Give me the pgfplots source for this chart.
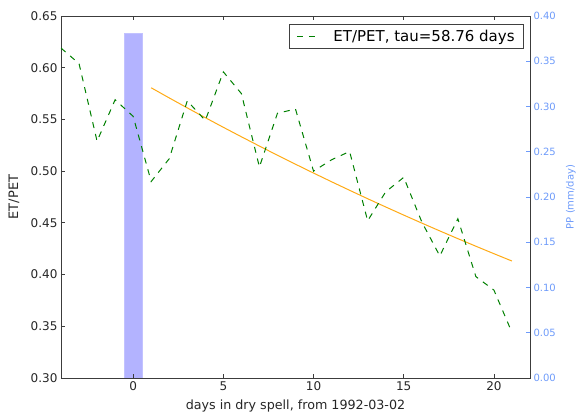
\documentclass[border=0pt]{standalone}
\usepackage{fontspec}
\setmainfont{DejaVu Sans}
\usepackage{pgfplots}
\pgfplotsset{compat=1.18}
\definecolor{ppblue}{RGB}{110,155,250}
\definecolor{barblue}{RGB}{179,179,255}
\definecolor{etgreen}{RGB}{0,128,0}
\definecolor{fitorange}{RGB}{255,170,20}
\definecolor{spine}{RGB}{60,60,60}
\begin{document}
\begin{tikzpicture}
% right axis: precipitation bar
\begin{axis}[
  at={(0pt,0pt)}, anchor=south west,
  scale only axis, width=469pt, height=362pt,
  xmin=-4, xmax=22, ymin=0, ymax=0.40,
  axis x line=none,
  axis y line*=right,
  y axis line style={draw=spine, line width=0.9pt},
  ytick={0,0.05,...,0.40},
  tick align=inside,
  major tick length=4pt,
  ytick style={color=ppblue, line width=0.8pt},
  yticklabel style={color=ppblue, font=\fontsize{10}{12}\selectfont},
  /pgf/number format/assume math mode=true,
  /pgf/number format/fixed, /pgf/number format/fixed zerofill, /pgf/number format/precision=2,
  ylabel={PP (mm/day)},
  ylabel style={color=ppblue, font=\fontsize{10}{12}\selectfont, at={(axis description cs:1.087,0.5)}, anchor=center},
]
\addplot[ybar, bar width=1, fill=barblue, draw=barblue!80!white, line width=0.5pt] coordinates {(0,0.381)};
\end{axis}
% left axis: ET/PET
\begin{axis}[
  at={(0pt,0pt)}, anchor=south west,
  scale only axis, width=469pt, height=362pt,
  xmin=-4, xmax=22, ymin=0.30, ymax=0.65,
  xtick={0,5,10,15,20},
  ytick={0.30,0.35,...,0.65},
  ytick pos=left,
  tick align=inside,
  major tick length=4pt,
  axis line style={draw=spine, line width=0.9pt},
  tick style={color=spine, line width=0.8pt},
  ticklabel style={font=\fontsize{12}{14}\selectfont, color=black!85},
  /pgf/number format/assume math mode=true,
  yticklabel style={/pgf/number format/fixed, /pgf/number format/fixed zerofill, /pgf/number format/precision=2},
  xlabel={days in dry spell, from 1992-03-02},
  xlabel style={font=\fontsize{12.7}{15}\selectfont, color=black!85, yshift=-2pt},
  ylabel={ET/PET},
  ylabel style={font=\fontsize{13}{15}\selectfont, color=black!85, at={(axis description cs:-0.100,0.5)}, anchor=center},
  legend style={at={(rel axis cs:1,1)}, anchor=north east, xshift=-6pt, yshift=-8pt,
    draw=black!75, line width=0.8pt, font=\fontsize{15}{17}\selectfont,
    inner xsep=7pt, inner ysep=3.5pt, cells={anchor=west}},
  legend image code/.code={\draw[#1, line width=1pt] (0pt,0pt) -- (18pt,0pt); \path (34pt,0pt);},
]
\addplot[fitorange, line width=1pt, forget plot] coordinates {
(1,0.58060)(2,0.57080)(3,0.56117)(4,0.55170)(5,0.54239)(6,0.53324)(7,0.52424)
(8,0.51539)(9,0.50670)(10,0.49815)(11,0.48974)(12,0.48148)(13,0.47335)(14,0.46537)
(15,0.45752)(16,0.44980)(17,0.44220)(18,0.43474)(19,0.42741)(20,0.42019)(21,0.41310)};
\addplot[etgreen, line width=1pt, dash pattern=on 6pt off 6pt] coordinates {
(-4,0.619)(-3,0.604)(-2,0.529)(-1,0.569)(0,0.553)(1,0.490)(2,0.512)(3,0.568)
(4,0.549)(5,0.596)(6,0.575)(7,0.504)(8,0.556)(9,0.560)(10,0.500)(11,0.511)
(12,0.519)(13,0.452)(14,0.480)(15,0.494)(16,0.451)(17,0.418)(18,0.454)
(19,0.398)(20,0.385)(21,0.344)};
\addlegendentry{ET/PET, tau=58.76 days}
\end{axis}
\pgfresetboundingbox
\path[use as bounding box] (-61pt,-38pt) rectangle (521pt,378pt);
\end{tikzpicture}
\end{document}
